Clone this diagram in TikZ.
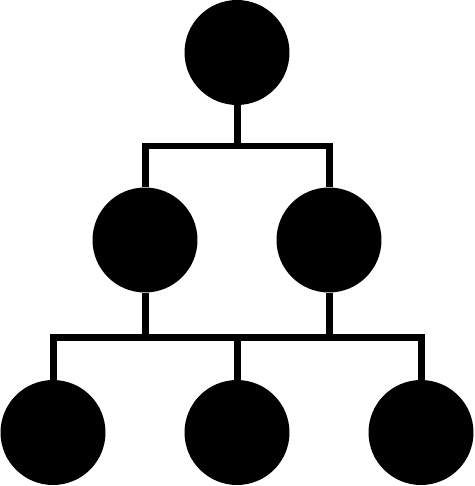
\documentclass[tikz,border=0pt]{standalone}
\usepackage{tikz}

\tikzset{
  dot/.style={circle, fill=black, inner sep=0pt, minimum size=2.1cm},
  link/.style={line width=0.14cm}
}

\begin{document}
\begin{tikzpicture}[x=0.02cm, y=-0.02cm]
        \useasboundingbox (0,0) rectangle (474,486);
        \node [dot] (top) at (237,52.5) {};
        \node [dot] (midL) at (145,240) {};
        \node [dot] (midR) at (329,240) {};
        \node [dot] (botL) at (53,432.5) {};
        \node [dot] (botC) at (237,432.5) {};
        \node [dot] (botR) at (421,432.5) {};
        \coordinate (j1) at (237,146);
        \coordinate (j2) at (237,337);
        \draw [link] (top) -- (j1);
        \draw [link] (midL) |- (j1) -| (midR);
        \draw [link] (midL) -- (midL |- j2);
        \draw [link] (midR) -- (midR |- j2);
        \draw [link] (botL) |- (j2) -| (botR);
        \draw [link] (j2) -- (botC);
    \end{tikzpicture}
\end{document}
